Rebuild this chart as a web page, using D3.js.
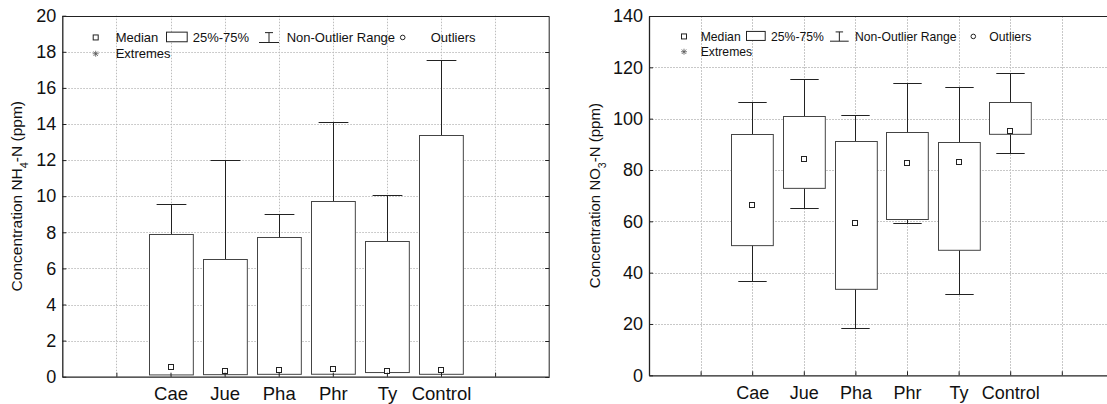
<!DOCTYPE html>
<html>
<head>
<meta charset="utf-8">
<script src="https://cdn.jsdelivr.net/npm/d3@7/dist/d3.min.js"></script>
<style>
  html, body { margin: 0; padding: 0; background: #fff; }
  svg { display: block; font-family: "Liberation Sans", Arial, Helvetica, sans-serif; }
</style>
</head>
<body>
<svg id="chart" width="1107" height="404"></svg>
<script>
// Treatments shown along the x axis
const categories = ["Cae", "Jue", "Pha", "Phr", "Ty", "Control"];

// NH4-N concentration (ppm): box-plot statistics per treatment
const nh4Min    = [0.15, 0.15, 0.15, 0.15, 0.25, 0.15];
const nh4Q1     = [0.15, 0.15, 0.15, 0.15, 0.25, 0.15];
const nh4Median = [0.55, 0.31, 0.39, 0.42, 0.30, 0.35];
const nh4Q3     = [7.93, 6.53, 7.73, 9.72, 7.51, 13.38];
const nh4Max    = [9.59, 11.99, 9.00, 14.13, 10.09, 17.53];
const nh4Ticks  = [0, 2, 4, 6, 8, 10, 12, 14, 16, 18, 20];

// NO3-N concentration (ppm): box-plot statistics per treatment
const no3Min    = [36.6, 65.1, 18.4, 59.5, 31.7, 86.6];
const no3Q1     = [50.9, 72.9, 33.8, 61.0, 49.0, 94.2];
const no3Median = [66.5, 84.2, 59.5, 82.6, 83.1, 95.2];
const no3Q3     = [94.2, 100.9, 91.4, 94.9, 91.0, 106.6];
const no3Max    = [106.5, 115.5, 101.6, 114.0, 112.5, 117.9];
const no3Ticks  = [0, 20, 40, 60, 80, 100, 120, 140];

const legendItems = ["Median", "25%-75%", "Non-Outlier Range", "Outliers", "Extremes"];

const svg = d3.select("#chart");

function drawPanel(cfg) {
  const g = svg.append("g");
  const nSlots = 9;
  const x = d3.scaleLinear().domain([0, nSlots]).range([cfg.left, cfg.left + cfg.step * nSlots]);
  const y = d3.scaleLinear().domain([0, cfg.yMax]).range([cfg.bottom, cfg.top]);
  const x0 = x(0), x1 = x(nSlots), y0 = y(0), y1 = y(cfg.yMax);
  const slotPos = d3.range(1, nSlots);            // grid slots 1..8
  const catPos = i => i + 2;                      // categories sit in slots 2..7
  const boxW = cfg.step * 0.81, capW = cfg.step * 0.55;

  // grid
  const grid = g.append("g").attr("stroke", cfg.gridColor).attr("stroke-width", 1)
    .attr("stroke-dasharray", cfg.gridDash);
  grid.selectAll("line.h").data(cfg.ticks.filter(t => t > 0 && t < cfg.yMax)).join("line")
    .attr("x1", x0).attr("x2", x1).attr("y1", d => Math.round(y(d)) + 0.5).attr("y2", d => Math.round(y(d)) + 0.5);
  grid.selectAll("line.v").data(slotPos).join("line")
    .attr("x1", d => Math.round(x(d)) + 0.5).attr("x2", d => Math.round(x(d)) + 0.5).attr("y1", y1).attr("y2", y0);

  // legend
  const L = cfg.legend;
  const lg = g.append("g").attr("font-size", L.font).attr("fill", "#111");
  const r1 = y1 + L.row1, r2 = y1 + L.row2;
  lg.append("rect").attr("x", x0 + L.sq - 2.5).attr("y", r1 - L.font * 0.35 - 2.5).attr("width", 5).attr("height", 5)
    .attr("fill", "#fff").attr("stroke", "#222");
  lg.append("text").attr("x", x0 + L.t0).attr("y", r1).text(legendItems[0]);
  lg.append("rect").attr("x", x0 + L.box[0] + 0.5).attr("y", r1 - L.font * 0.72 - 0.5)
    .attr("width", L.box[1] - L.box[0]).attr("height", L.font * 0.74)
    .attr("fill", "#fff").attr("stroke", "#222");
  lg.append("text").attr("x", x0 + L.t1).attr("y", r1).text(legendItems[1]);
  const wx = x0 + L.wh[0], ww = L.wh[1] - L.wh[0], wt = r1 - L.font * 0.72, wb = r1 + 0.5;
  lg.append("path").attr("fill", "none").attr("stroke", "#222")
    .attr("d", `M${wx + ww * 0.3},${wt}H${wx + ww * 0.7}M${wx + ww / 2},${wt}V${wb}M${wx},${wb}H${wx + ww}`);
  lg.append("text").attr("x", x0 + L.t2).attr("y", r1).text(legendItems[2]);
  lg.append("circle").attr("cx", x0 + L.circ).attr("cy", r1 - L.font * 0.35).attr("r", 2.3)
    .attr("fill", "none").attr("stroke", "#222");
  lg.append("text").attr("x", x0 + L.t3).attr("y", r1).text(legendItems[3]);
  const ax = x0 + L.sq, ay = r2 - L.font * 0.35, a = 3;
  lg.append("path").attr("fill", "none").attr("stroke", "#555").attr("stroke-width", 0.8)
    .attr("d", `M${ax - a},${ay}H${ax + a}M${ax},${ay - a}V${ay + a}M${ax - a * 0.75},${ay - a * 0.75}L${ax + a * 0.75},${ay + a * 0.75}M${ax - a * 0.75},${ay + a * 0.75}L${ax + a * 0.75},${ay - a * 0.75}`);
  lg.append("text").attr("x", x0 + L.t0).attr("y", r2).text(legendItems[4]);

  // whiskers
  const wg = g.append("g").attr("stroke", "#222").attr("stroke-width", 1).attr("fill", "none");
  wg.selectAll("path").data(categories).join("path")
    .attr("d", (c, i) => {
      const cx = Math.round(x(catPos(i))) + 0.5;
      const hi = Math.round(y(cfg.max[i])) + 0.5, lo = Math.round(y(cfg.min[i])) + 0.5;
      return `M${cx},${hi}V${lo}M${cx - capW / 2},${hi}H${cx + capW / 2}` +
             (cfg.min[i] < cfg.q1[i] ? `M${cx - capW / 2},${lo}H${cx + capW / 2}` : "");
    });

  // boxes (interquartile range)
  g.append("g").selectAll("rect").data(categories).join("rect")
    .attr("x", (c, i) => Math.round(x(catPos(i)) - boxW / 2) + 0.5)
    .attr("y", (c, i) => Math.round(y(cfg.q3[i])) + 0.5)
    .attr("width", boxW)
    .attr("height", (c, i) => y(cfg.q1[i]) - y(cfg.q3[i]))
    .attr("fill", "#fff").attr("stroke", "#444").attr("stroke-width", 1);

  // medians
  g.append("g").selectAll("rect").data(categories).join("rect")
    .attr("x", (c, i) => Math.round(x(catPos(i))) - 2.5)
    .attr("y", (c, i) => Math.round(y(cfg.median[i])) - 2.5)
    .attr("width", 5).attr("height", 5)
    .attr("fill", "#fff").attr("stroke", "#222").attr("stroke-width", 1);

  // frame
  g.append("path").attr("fill", "none").attr("stroke", "#222").attr("stroke-width", 1)
    .attr("d", `M${x0},${Math.round(y1) + 0.5}H${x1}V${y0}`);

  // y axis
  const yAxis = g.append("g").attr("transform", `translate(${x0},0)`)
    .call(d3.axisLeft(y).tickValues(cfg.ticks).tickSize(-4).tickSizeOuter(0).tickPadding(6));
  yAxis.select(".domain").attr("stroke", "#222").attr("stroke-width", 1.3);
  yAxis.selectAll(".tick line").attr("stroke", "#222");
  yAxis.selectAll("text").attr("font-size", cfg.tickFont).attr("fill", "#111").attr("font-family", null);

  // right-border ticks
  g.append("g").attr("stroke", "#222").selectAll("line").data(cfg.ticks).join("line")
    .attr("x1", x1).attr("x2", x1 - 4).attr("y1", d => Math.round(y(d)) + 0.5).attr("y2", d => Math.round(y(d)) + 0.5);

  // x axis
  const xAxis = g.append("g").attr("transform", `translate(0,${y0})`)
    .call(d3.axisBottom(x).tickValues(slotPos)
      .tickFormat(d => categories[d - 2] || "")
      .tickSize(-4).tickSizeOuter(0).tickPadding(cfg.xPad));
  xAxis.select(".domain").attr("stroke", "#222").attr("stroke-width", 1.3);
  xAxis.selectAll(".tick line").attr("stroke", "#222");
  xAxis.selectAll("text").attr("font-size", cfg.catFont).attr("fill", "#111").attr("font-family", null);

  // axis title
  const t = g.append("text")
    .attr("transform", `translate(${cfg.titleX},${(y0 + y1) / 2}) rotate(-90)`)
    .attr("text-anchor", "middle").attr("font-size", cfg.titleFont).attr("fill", "#111");
  t.append("tspan").text(cfg.title[0]);
  t.append("tspan").attr("baseline-shift", "sub").attr("font-size", "70%").text(cfg.title[1]);
  t.append("tspan").text(cfg.title[2]);
}

drawPanel({
  left: 62.3, step: 54.1, top: 15.7, bottom: 376.7, yMax: 20, ticks: nh4Ticks,
  min: nh4Min, q1: nh4Q1, median: nh4Median, q3: nh4Q3, max: nh4Max,
  gridColor: "#bdbdbd", gridDash: "1.5,1.5",
  tickFont: 18, catFont: 18.5, xPad: 10.5, titleFont: 15.5, titleX: 22,
  title: ["Concentration NH", "4", "-N (ppm)"],
  legend: { font: 13, row1: 26.3, row2: 42.6, sq: 33.4, t0: 53.4, box: [103.7, 124.4], t1: 130.4,
            wh: [196.7, 216.7], t2: 224.4, circ: 340.4, t3: 368.4 }
});

drawPanel({
  left: 649, step: 51.6, top: 16, bottom: 375.3, yMax: 140, ticks: no3Ticks,
  min: no3Min, q1: no3Q1, median: no3Median, q3: no3Q3, max: no3Max,
  gridColor: "#c8c8c8", gridDash: "2,1",
  tickFont: 18, catFont: 18, xPad: 11, titleFont: 15, titleX: 600,
  title: ["Concentration NO", "3", "-N (ppm)"],
  legend: { font: 12.2, row1: 24.7, row2: 40, sq: 35, t0: 51.7, box: [97, 115.7], t1: 122,
            wh: [181, 199.7], t2: 206, circ: 324.3, t3: 340.3 }
});
</script>
</body>
</html>
